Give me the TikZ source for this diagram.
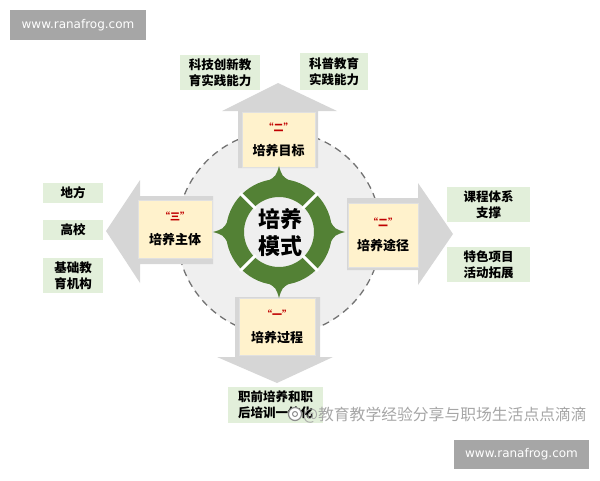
\documentclass[tikz,border=0pt]{standalone}
\usepackage{fontspec}
\usepackage{xcolor}
\newfontfamily\cjk{Noto Sans CJK SC}
\newfontfamily\wmfont{DejaVu Sans}
\definecolor{ringGreen}{HTML}{538135}
\definecolor{labelGreen}{HTML}{E2EFDA}
\definecolor{boxBeige}{HTML}{FFF2CC}
\definecolor{arrowGray}{HTML}{D6D6D6}
\definecolor{discGray}{HTML}{EFEFEF}
\definecolor{quoteRed}{HTML}{C00000}
\definecolor{markGray}{HTML}{A6A6A6}

\tikzset{
    greenLabel/.style={fill=labelGreen, inner sep=0pt, align=center,
        font=\cjk\bfseries\fontsize{12.5}{16}\selectfont},
    stageBox/.style={fill=boxBeige, draw=black!12, inner sep=0pt, align=center,
        minimum width=74pt, minimum height=57pt,
        font=\cjk\bfseries\fontsize{13}{24}\selectfont},
    grayArrow/.style={fill=arrowGray},
    webMark/.style={fill=markGray, text=white, inner sep=0pt,
        font=\wmfont\fontsize{12}{14}\selectfont}
}
\newcommand{\stageText}[2]{{\color{quoteRed}\fontsize{10}{10}\selectfont “#1”}\\#2}

\begin{document}
\begin{tikzpicture}[x=1pt, y=-1pt]
        \useasboundingbox (0,0) rectangle (600,480);

        % dashed disc behind everything
        \fill[discGray] (279,233) circle (102);
        \draw[black!55, line width=1.3pt, dash pattern=on 7pt off 5pt] (279,233) circle (102);

        % four outgoing arrows
        \fill[grayArrow] (238,168) -- (238,111) -- (222,111) -- (278,83) -- (337,111) -- (318,111) -- (318,168) -- cycle;
        \fill[grayArrow] (213,196) -- (140,196) -- (140,180) -- (106,231) -- (140,283) -- (140,264) -- (213,264) -- cycle;
        \fill[grayArrow] (347,198) -- (418,198) -- (418,183) -- (453,234) -- (418,285) -- (418,270) -- (347,270) -- cycle;
        \fill[grayArrow] (235,297) -- (235,357) -- (217,357) -- (277,383) -- (333,357) -- (320,357) -- (320,297) -- cycle;

        % stage boxes
        \node[stageBox, minimum width=73pt, minimum height=55pt] (goal) at (278.5,139.5) {\stageText{二}{培养目标}};
        \node[stageBox, minimum height=58pt] (subject) at (175,229) {\stageText{三}{培养主体}};
        \node[stageBox, minimum width=70pt, minimum height=64pt] (path) at (383,235) {\stageText{二}{培养途径}};
        \node[stageBox, minimum width=76pt] (process) at (277,326.5) {\stageText{一}{培养过程}};

        % green ring
        \begin{scope}[shift={(279,232)}]
            \fill[ringGreen, even odd rule] (0,0) circle (53) (0,0) circle (35);
            \foreach \a in {0,90,180,270}
                \fill[ringGreen] (\a-13:52) .. controls (\a-3:56) .. (\a:66) .. controls (\a+3:56) .. (\a+13:52) -- cycle;
            \foreach \a in {45,135,225,315}
                \draw[white, line width=3pt] (\a:33) -- (\a:55);
        \end{scope}
        \node[font=\cjk\bfseries\fontsize{22}{27}\selectfont, align=center] (mode) at (280,233) {培养\\模式};

        % green labels
        \node[greenLabel, minimum width=80pt, minimum height=35pt] (techEdu) at (220,72.5) {科技创新教\\育实践能力};
        \node[greenLabel, minimum width=68pt, minimum height=37pt] (sciEdu) at (334,71.5) {科普教育\\实践能力};
        \node[greenLabel, minimum width=60pt, minimum height=20pt] (local) at (73,193) {地方};
        \node[greenLabel, minimum width=60pt, minimum height=20pt] (college) at (73,230) {高校};
        \node[greenLabel, minimum width=60pt, minimum height=35pt] (school) at (73,275.5) {基础教\\育机构};
        \node[greenLabel, minimum width=83pt, minimum height=35pt] (course) at (488.5,204.5) {课程体系\\支撑};
        \node[greenLabel, minimum width=83pt, minimum height=35pt] (activity) at (488.5,264.5) {特色项目\\活动拓展};
        \node[greenLabel, minimum width=95pt, minimum height=36pt] (career) at (275.5,405) {职前培养和职\\后培训一体化};

        % watermarks
        \node[webMark, minimum width=136pt, minimum height=30pt] (markTop) at (78,25) {www.ranafrog.com};
        \node[webMark, minimum width=135pt, minimum height=29pt] (markBottom) at (521.5,454.5) {www.ranafrog.com};
        \node[circle, fill=white, draw=black!45, line width=1.2pt, minimum size=13pt, inner sep=0pt] (weibo) at (295,414) {};
        \node[circle, draw=black!45, line width=1pt, minimum size=5pt, inner sep=0pt] at (weibo) {};
        \node[anchor=west, inner sep=0pt, text=black!35, font=\cjk\fontsize{15.8}{16}\selectfont] (weiboText) at (303,415) {@教育教学经验分享与职场生活点点滴滴};
\end{tikzpicture}
\end{document}
